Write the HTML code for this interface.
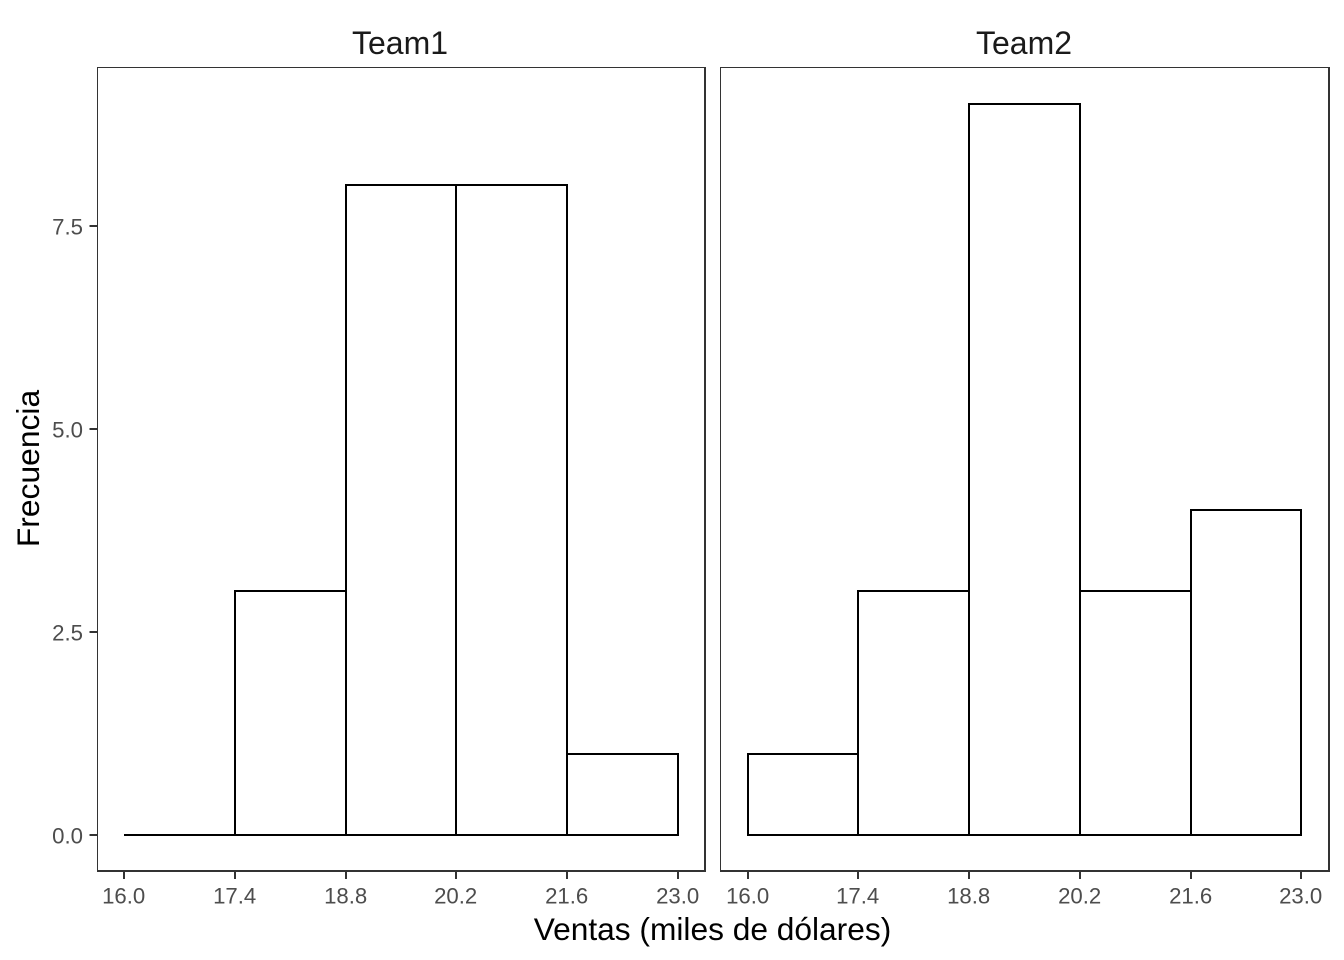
<!DOCTYPE html>
<html lang="es">
<head>
<meta charset="utf-8">
<title>Histograma de ventas por equipo</title>
<style>
html,body{margin:0;padding:0;background:#fff;width:1344px;height:960px;overflow:hidden}
svg{display:block;font-family:"Liberation Sans",Arial,sans-serif}
</style>
</head>
<body>
<svg id="chart" xmlns="http://www.w3.org/2000/svg" width="1344" height="960" viewBox="0 0 1344 960">
<rect x="0" y="0" width="1344" height="960" fill="#ffffff"/>
<text x="712.5" y="940" font-size="31.7" fill="#000000" text-anchor="middle">Ventas (miles de dólares)</text>
<text transform="translate(39 468.5) rotate(-90)" font-size="31.8" fill="#000000" text-anchor="middle">Frecuencia</text>
</svg>
<script>
var teams = ['Team1', 'Team2'];
var binEdges = [16.0, 17.4, 18.8, 20.2, 21.6, 23.0];
var team1Counts = [0, 3, 8, 8, 1];
var team2Counts = [1, 3, 9, 3, 4];
var xTickLabels = ['16.0', '17.4', '18.8', '20.2', '21.6', '23.0'];
var yTicks = [0, 2.5, 5, 7.5];
var yTickLabels = ['0.0', '2.5', '5.0', '7.5'];

var svg = document.getElementById('chart');
var NS = 'http://www.w3.org/2000/svg';
function make(tag, attrs, parent) {
  var el = document.createElementNS(NS, tag);
  for (var k in attrs) el.setAttribute(k, attrs[k]);
  parent.appendChild(el);
  return el;
}
var panelTop = 67.5, panelBottom = 871;
var panelLefts = [97.5, 720.5];
var panelRights = [705, 1329];
var plotStarts = [124.3, 748.2];
var plotEnds = [678.6, 1301.8];
var titleCenters = [400, 1024];
var yZeroPx = 835, yUnitPx = 731 / 9;

function yScale(v) {
  return Math.round(yZeroPx - v * yUnitPx);
}
function xScale(v, p) {
  var lo = binEdges[0], hi = binEdges[binEdges.length - 1];
  return Math.floor(plotStarts[p] + (v - lo) / (hi - lo) * (plotEnds[p] - plotStarts[p]));
}

teams.forEach(function (team, p) {
  var counts = p === 0 ? team1Counts : team2Counts;
  var key = team.toLowerCase();
  var g = make('g', {}, svg);
  
  

  var title = make('text', {x: titleCenters[p], y: 54, 'font-size': 32, fill: '#1A1A1A', 'text-anchor': 'middle'}, g);
  
  
  title.textContent = team;

  counts.forEach(function (c, i) {
    var x0 = xScale(binEdges[i], p), x1 = xScale(binEdges[i + 1], p);
    var y = yScale(c), y0 = yScale(0);
    var d = 'M' + x0 + ' ' + y0 + 'L' + x0 + ' ' + y + 'L' + x1 + ' ' + y + 'L' + x1 + ' ' + y0 + 'Z';
    var bar = make('path', {d: d, fill: '#ffffff', stroke: '#000000', 'stroke-width': 2, 'stroke-linejoin': 'miter'}, g);
    
    
  });

  var edges = [
    ['top', panelLefts[p] - 0.5, panelTop, panelRights[p] + 1, panelTop, 1],
    ['left', panelLefts[p], panelTop, panelLefts[p], panelBottom, 1],
    ['right', panelRights[p], panelTop - 0.5, panelRights[p], panelBottom + 1, 2],
    ['bottom', panelLefts[p] - 0.5, panelBottom, panelRights[p] + 1, panelBottom, 2]
  ];
  edges.forEach(function (e) {
    var edge = make('line', {x1: e[1], y1: e[2], x2: e[3], y2: e[4], stroke: '#333333', 'stroke-width': e[5]}, g);
    
    
  });

  binEdges.forEach(function (v, i) {
    var x = xScale(v, p);
    var tick = make('line', {x1: x, x2: x, y1: panelBottom, y2: 879, stroke: '#333333', 'stroke-width': 2}, g);
    
    
    var lab = make('text', {x: x - 0.3, y: 903.5, 'font-size': 22.2, fill: '#4D4D4D', 'text-anchor': 'middle'}, g);
    
    
    lab.textContent = xTickLabels[i];
  });

  if (p === 0) {
    yTicks.forEach(function (v, i) {
      var y = yScale(v);
      var tick = make('line', {x1: 89.5, x2: panelLefts[0], y1: y, y2: y, stroke: '#333333', 'stroke-width': 2}, g);
      
      
      var lab = make('text', {x: 83, y: y + 8.4, 'font-size': 22.2, fill: '#4D4D4D', 'text-anchor': 'end'}, g);
      
      
      lab.textContent = yTickLabels[i];
    });
  }
});
</script>
</body>
</html>
